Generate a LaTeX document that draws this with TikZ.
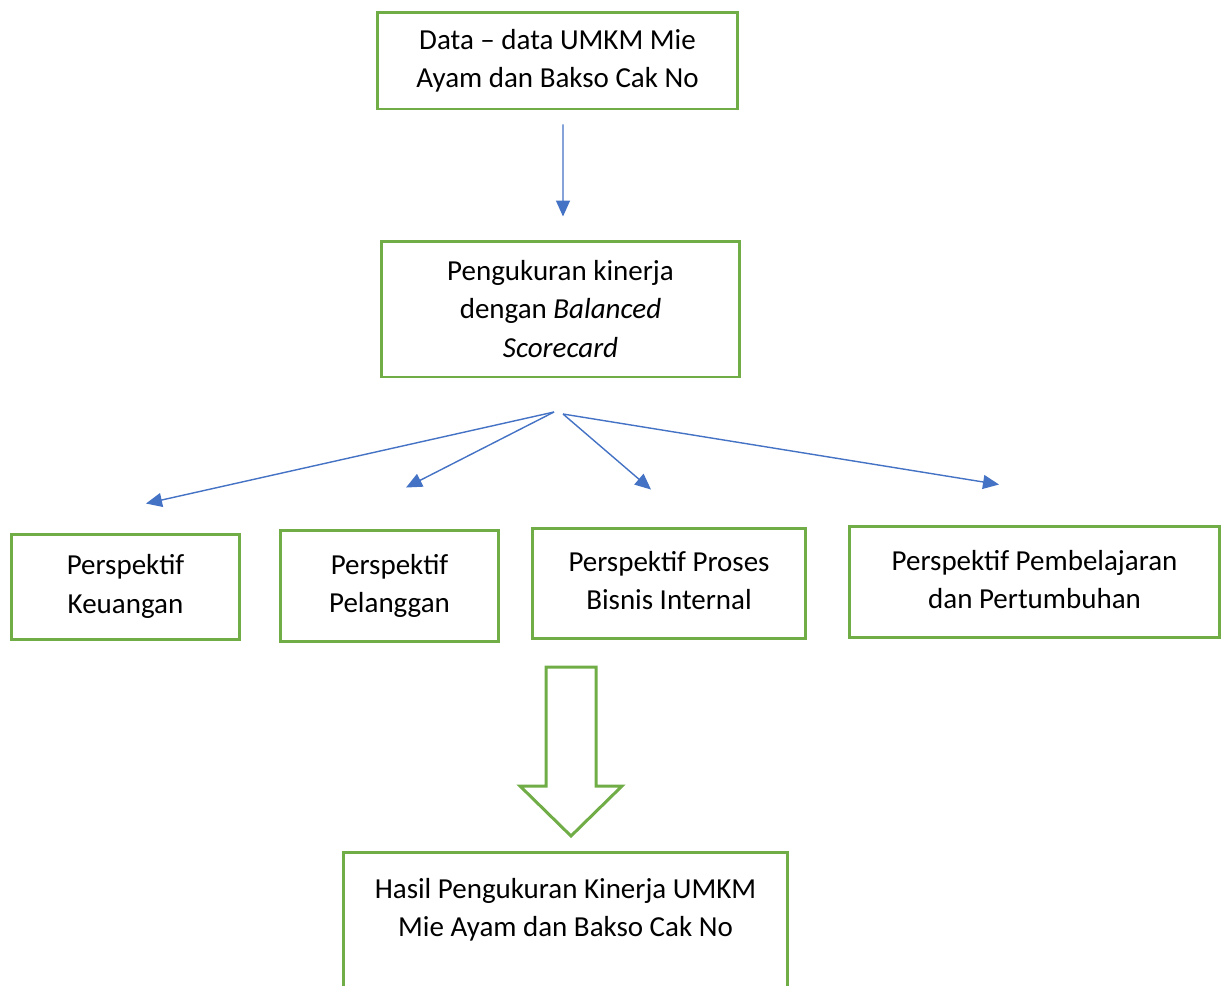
\documentclass[tikz,border=0pt]{standalone}
\usepackage{fontspec}
\setmainfont{Carlito}
\usepackage{tikz}
\usetikzlibrary{arrows.meta}
\usepackage{xcolor}
\definecolor{boxgreen}{HTML}{70AD47}
\definecolor{arrblue}{HTML}{4472C4}

\begin{document}
\begin{tikzpicture}[x=0.02cm, y=-0.02cm,
        box/.style={draw=boxgreen, line width=1.7pt, align=center, inner sep=0pt,
            font=\fontsize{16.5}{21.8}\selectfont},
        arr/.style={draw=arrblue, line width=0.8pt,
            -{Triangle[length=0.32cm, width=0.28cm]}, arrblue}]
        \useasboundingbox (0,0) rectangle (1226,985);

        \node[box, minimum width=7.22cm, minimum height=1.94cm] (data) at (557.5,60.5)
            {Data -- data UMKM Mie\\Ayam dan Bakso Cak No};
        \node[box, minimum width=7.18cm, minimum height=2.72cm] (bsc) at (560.5,309)
            {Pengukuran kinerja\\dengan \textit{Balanced}\\\textit{Scorecard}};

        \node[box, minimum width=4.58cm, minimum height=2.10cm] (keu) at (125.5,586.5)
            {Perspektif\\Keuangan};
        \node[box, minimum width=4.38cm, minimum height=2.22cm] (pel) at (389.5,585.5)
            {\raisebox{1.5pt}{\begin{tabular}{@{}c@{}}Perspektif\\Pelanggan\end{tabular}}};
        \node[box, minimum width=5.48cm, minimum height=2.20cm] (pro) at (669,583)
            {\raisebox{5pt}{\begin{tabular}{@{}c@{}}Perspektif Proses\\Bisnis Internal\end{tabular}}};
        \node[box, minimum width=7.42cm, minimum height=2.22cm] (pem) at (1034.5,581.5)
            {\raisebox{5pt}{\begin{tabular}{@{}c@{}}Perspektif Pembelajaran\\dan Pertumbuhan\end{tabular}}};

        \node[box, minimum width=8.90cm, minimum height=3.30cm, anchor=north,
            label={[align=center, anchor=center, yshift=-1.17cm,
                font=\fontsize{16.5}{21.8}\selectfont]north:Hasil Pengukuran Kinerja UMKM\\Mie Ayam dan Bakso Cak No}]
            (hasil) at (565.5,851) {};

        % arrows
        \draw[arr, shorten <=0.28cm, shorten >=0.46cm] ([xshift=0.11cm]data.south) -- ([xshift=0.05cm]bsc.north);
        \coordinate (fanL) at (554,412);
        \coordinate (fanR) at (563,414);
        \draw[arr] (fanL) -- ([xshift=0.41cm, yshift=0.58cm]keu.north);
        \draw[arr] (fanL) -- ([xshift=0.33cm, yshift=0.82cm]pel.north);
        \draw[arr] (fanR) -- ([xshift=-0.36cm, yshift=0.74cm]pro.north);
        \draw[arr] (fanR) -- ([xshift=-0.71cm, yshift=0.80cm]pem.north);

        % block arrow
        \draw[boxgreen, line width=1.7pt, line join=miter]
            (546,667) -- (596,667) -- (596,786) -- (622,786) -- (571,836)
            -- (520,786) -- (546,786) -- cycle;
    \end{tikzpicture}
\end{document}
